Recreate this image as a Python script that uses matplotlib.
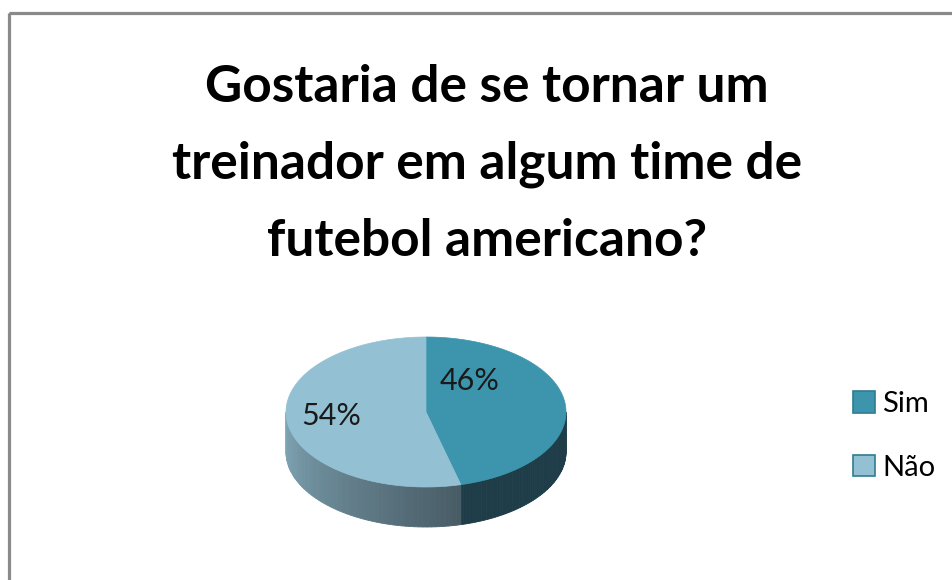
import matplotlib.pyplot as plt
import numpy as np
from matplotlib.patches import Polygon, Rectangle, Patch

# dados do gráfico
categorias = ["Sim", "Não"]
valores = [46, 54]
rotulos = ["46%", "54%"]
titulo = ["Gostaria de se tornar um", "treinador em algum time de", "futebol americano?"]

# cores (topo, lateral)
cores_topo = ["#3D95AD", "#93C1D3"]
cores_lado = [("#1E3D48", "#1E3D48"), ("#82A8B8", "#485C66")]

plt.rcParams["font.family"] = ["Lato", "DejaVu Sans"]

fig = plt.figure(figsize=(9.52, 5.8), dpi=100)
ax = fig.add_axes([0, 0, 1, 1])
ax.set_xlim(0, 952)
ax.set_ylim(580, 0)
ax.axis("off")

# moldura cinza
ax.add_patch(Rectangle((9, 13), 960, 600, fill=False, edgecolor="#8a8a8a", lw=2.3))

# título
for i, linha in enumerate(titulo):
    ax.text(487, 102 + i * 77, linha, ha="center", va="baseline",
            fontsize=37, fontweight="bold", color="#000000")

# geometria da pizza 3D
cx, cy, a, b, prof = 426, 412, 140, 75, 40


def ponto(t):
    t = np.radians(t)
    return cx + a * np.cos(t), cy - b * np.sin(t)


total = sum(valores)
angulos = [90]
for v in valores:
    angulos.append(angulos[-1] - 360 * v / total)

# laterais (só a parte da frente: -180..0 graus)
for i in range(len(valores)):
    ini, fim = angulos[i], angulos[i + 1]
    hi, lo = min(ini, 0), max(fim, -180)
    if hi <= lo:
        continue
    n = 60
    ts = np.linspace(lo, hi, n + 1)
    c0 = np.array(plt.matplotlib.colors.to_rgb(cores_lado[i][0]))
    c1 = np.array(plt.matplotlib.colors.to_rgb(cores_lado[i][1]))
    for k in range(n):
        arco = np.linspace(ts[k], ts[k + 1], 4)
        topo = [ponto(t) for t in arco]
        base = [(x, y + prof) for x, y in topo[::-1]]
        f = k / (n - 1)
        cor = c0 + (c1 - c0) * f
        ax.add_patch(Polygon(topo + base, closed=True, facecolor=cor,
                             edgecolor=cor, lw=0.6))

# faces de cima
for i in range(len(valores)):
    arco = np.linspace(angulos[i], angulos[i + 1], 200)
    pts = [(cx, cy)] + [ponto(t) for t in arco]
    ax.add_patch(Polygon(pts, closed=True, facecolor=cores_topo[i],
                         edgecolor=cores_topo[i], lw=0.5))

# rótulos de porcentagem
pos_rotulos = [(470, 381), (331, 416)]
for txt, (x, y) in zip(rotulos, pos_rotulos):
    ax.text(x, y, txt, ha="center", va="center", fontsize=22, color="#1a1a1a")

# legenda
alcas = [Patch(facecolor=c, edgecolor="#2F7C92", lw=1.2) for c in cores_topo]
ax.legend(alcas, categorias, loc="center left", bbox_to_anchor=(853 / 952, 1 - 436 / 580),
          frameon=False, fontsize=21, handlelength=0.75, handleheight=0.75,
          handletextpad=0.25, labelspacing=1.3, borderaxespad=0, borderpad=0)

plt.savefig("out.png", dpi=100)
plt.close()
